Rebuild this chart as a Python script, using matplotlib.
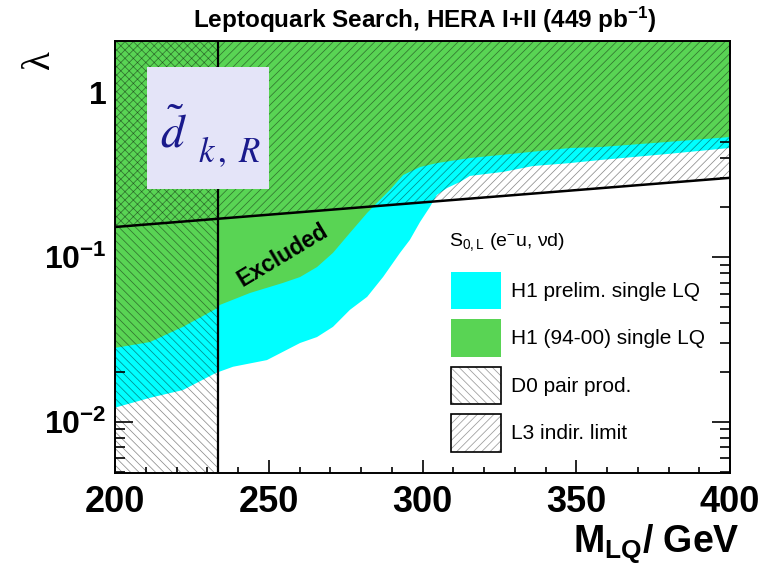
import numpy as np
import matplotlib
matplotlib.use('Agg')
import matplotlib.pyplot as plt
from matplotlib.patches import Patch, Rectangle
from matplotlib.ticker import MultipleLocator, LogLocator, NullFormatter

plt.rcParams['font.family'] = ['Liberation Sans', 'DejaVu Sans']
plt.rcParams['mathtext.fontset'] = 'custom'
plt.rcParams['mathtext.rm'] = 'Liberation Sans'
plt.rcParams['mathtext.it'] = 'Liberation Sans:italic'
plt.rcParams['mathtext.bf'] = 'Liberation Sans:bold'
plt.rcParams['mathtext.sf'] = 'Liberation Sans'
plt.rcParams['hatch.linewidth'] = 0.55

# ---------------- data ----------------
# H1 preliminary single LQ limit (lower edge of cyan region)
h1_prelim_mass = [200, 211.4, 222.1, 232.8, 238.4, 249.4, 260.2, 265.7, 270.9, 276.4,
                  282.0, 287.2, 292.7, 295.9, 299.2, 302.4, 304.7, 308.0, 312.2, 315.4,
                  326.2, 335.9, 348.0, 357.7, 379.5, 400]
h1_prelim_lambda = [0.0122, 0.0140, 0.0156, 0.0198, 0.0216, 0.0237, 0.0301, 0.0327, 0.0377, 0.0478,
                    0.0573, 0.0757, 0.106, 0.127, 0.163, 0.201, 0.238, 0.262, 0.285, 0.310,
                    0.328, 0.356, 0.371, 0.387, 0.421, 0.458]
# H1 (94-00) single LQ limit (lower edge of green region)
h1_9400_mass = [200, 211.4, 222.1, 232.8, 234.1, 243.9, 254.6, 260.2, 265.7, 270.9,
                276.4, 282.0, 285.2, 289.4, 293.7, 299.2, 304.7, 315.4, 331.7, 348.0,
                357.7, 379.5, 400]
h1_9400_lambda = [0.0281, 0.0305, 0.0377, 0.0484, 0.0512, 0.0605, 0.0696, 0.0756, 0.0869, 0.106,
                  0.140, 0.185, 0.213, 0.255, 0.314, 0.351, 0.371, 0.398, 0.427, 0.458,
                  0.464, 0.498, 0.534]
# D0 pair production mass limit
d0_mass_limit = 233.5
# L3 indirect limit
l3_mass = [200, 400]
l3_lambda = [0.152, 0.302]

x_ticks = [200, 250, 300, 350, 400]
x_tick_labels = ['200', '250', '300', '350', '400']
y_ticks = [0.01, 0.1, 1]
y_tick_labels = [r'$\mathbf{10^{-2}}$', r'$\mathbf{10^{-1}}$', r'$\mathbf{1}$']
legend_labels = ['H1 prelim. single LQ', 'H1 (94-00) single LQ', 'D0 pair prod.', 'L3 indir. limit']

CYAN = '#00ffff'
GREEN = '#59d454'
HATCH = (0, 0, 0, 0.45)

fig = plt.figure(figsize=(7.8, 5.68), dpi=100)
ax = fig.add_axes([115/780, 1-473/568, 615/780, 432/568])
ymin, ymax = 0.0049, 2.04
ax.set_yscale('log')
ax.set_xlim(200, 400)
ax.set_ylim(ymin, ymax)

ax.fill_between(h1_prelim_mass, h1_prelim_lambda, ymax, facecolor=CYAN, edgecolor='none', zorder=1)
ax.fill_between(h1_9400_mass, h1_9400_lambda, ymax, facecolor=GREEN, edgecolor='none', zorder=2)
ax.fill_between(l3_mass, l3_lambda, ymax, facecolor='none', edgecolor=HATCH, hatch='////',
                linewidth=0, zorder=3)
ax.fill_betweenx([ymin, ymax], 200, d0_mass_limit, facecolor='none', edgecolor=HATCH,
                 hatch='\\\\\\\\', linewidth=0, zorder=3)
ax.plot(l3_mass, l3_lambda, color='black', lw=1.8, zorder=4, solid_capstyle='butt')
ax.axvline(d0_mass_limit, color='black', lw=1.6, zorder=4)

ax.text(254.6, 0.103, 'Excluded', rotation=31, fontsize=16.5, fontweight='bold',
        ha='center', va='center', rotation_mode='anchor', zorder=5)

# axes styling
ax.set_xticks(x_ticks)
ax.set_xticklabels(x_tick_labels, fontweight='bold')
ax.xaxis.set_minor_locator(MultipleLocator(10))
ax.set_yticks(y_ticks)
ax.set_yticklabels(y_tick_labels)
ax.yaxis.set_minor_locator(LogLocator(base=10, subs=np.arange(2, 10)))
ax.yaxis.set_minor_formatter(NullFormatter())
ax.tick_params(which='both', direction='in', top=True, right=True, width=1.2)
ax.tick_params(axis='x', which='major', length=9.5, labelsize=26, pad=9)
ax.tick_params(axis='x', which='minor', length=4)
ax.tick_params(axis='y', which='major', length=13, labelsize=23, pad=6)
ax.tick_params(axis='y', which='minor', length=7)
for s in ax.spines.values():
    s.set_linewidth(1.4)
    s.set_zorder(6)

# title and axis titles
fig.text(425/780, 1-20/568, r'Leptoquark Search, HERA I+II (449 pb$^{\mathbf{-1}}$)',
         ha='center', va='center', fontsize=17.5, fontweight='bold')
fig.text(740/780, 1-552/568, r'$\mathbf{M_{LQ}}$/ GeV', ha='right', va='baseline',
         fontsize=27, fontweight='bold')
fig.text(40/780, 1-60/568, 'λ', rotation=90, fontsize=28, family='Liberation Serif',
         ha='center', va='center')

# label box
fig.add_artist(Rectangle((147/780, 1-189/568), 122/780, 122/568, transform=fig.transFigure,
                         facecolor='#e4e4f8', edgecolor='none', zorder=10))
fig.text(160/780, 1-147/568, r'$\tilde{d}$', fontsize=34, color='#1a1a8c',
         math_fontfamily='stix', ha='left', va='baseline', zorder=11)
fig.text(198/780, 1-162/568, r'$k\,,\;R$', fontsize=25, color='#1a1a8c',
         math_fontfamily='stix', ha='left', va='baseline', zorder=11)

# legend header
fig.text(449/780, 1-246/568, r'S$_{\mathrm{0,L}}$ (e$^{-}$u, νd)', fontsize=14,
         ha='left', va='baseline', zorder=8)

# legend
handles = [
    Patch(facecolor=CYAN, edgecolor='none'),
    Patch(facecolor=GREEN, edgecolor='none'),
    (Patch(facecolor='white', edgecolor='#9a9a9a', hatch='\\\\\\\\', lw=0),
     Patch(facecolor='none', edgecolor='black', lw=1.2)),
    (Patch(facecolor='white', edgecolor='#9a9a9a', hatch='////', lw=0),
     Patch(facecolor='none', edgecolor='black', lw=1.2)),
]
leg = ax.legend(handles, legend_labels,
                loc='upper left', bbox_to_anchor=(451/780, 1-272/568),
                bbox_transform=fig.transFigure, frameon=False, fontsize=15,
                handlelength=2.4, handleheight=2.36,
                labelspacing=0.5, handletextpad=0.5, borderpad=0, borderaxespad=0)
leg.set_zorder(7)

fig.savefig('out.png', dpi=100)
